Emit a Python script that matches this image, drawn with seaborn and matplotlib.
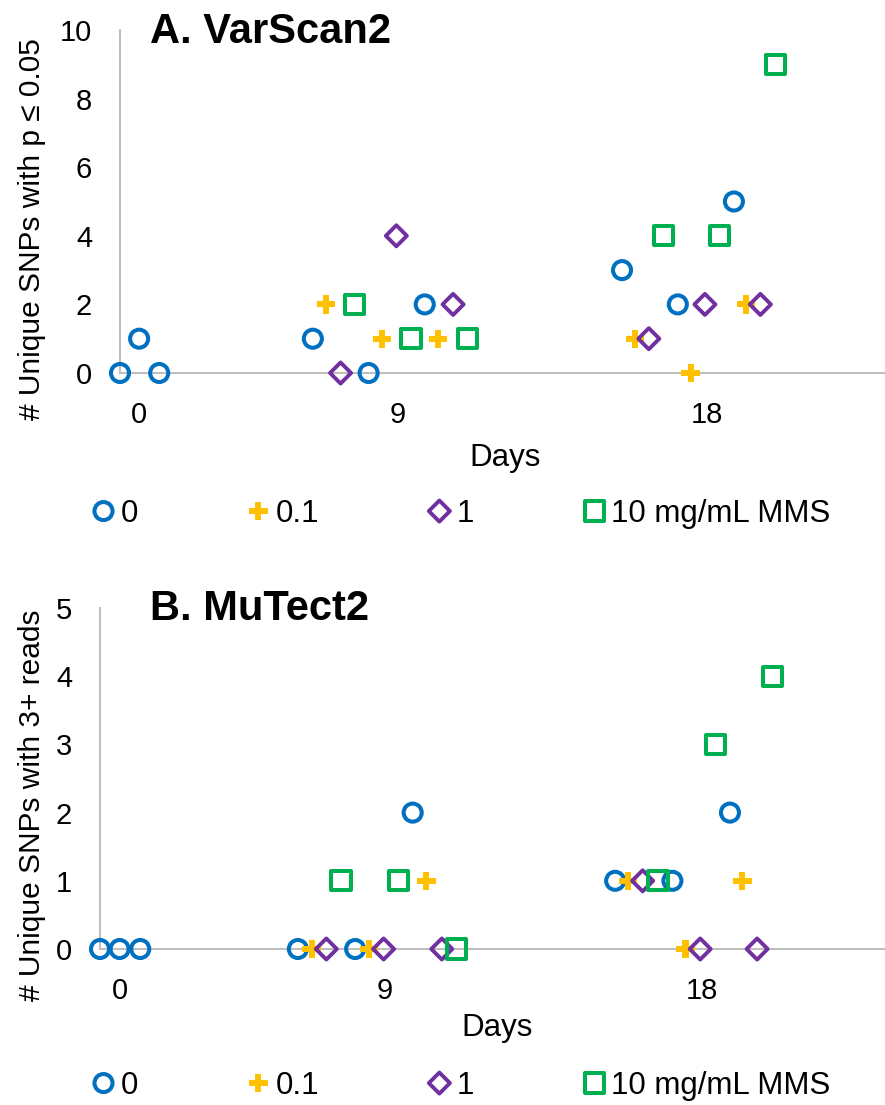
import matplotlib
matplotlib.use('Agg')
import matplotlib.pyplot as plt
import seaborn as sns

# x positions in days (replicates spread around each time point)
x_ctrl = [0, 0.6, 1.23, 6.05, 7.8, 9.56, 15.75, 17.5, 19.26]
x_low = [6.47, 8.22, 9.98, 16.15, 17.9, 19.64]
x_mid = [6.92, 8.67, 10.45, 16.59, 18.35, 20.09]
x_high = [7.37, 9.13, 10.9, 17.06, 18.81, 20.57]

# A. VarScan2 - unique SNPs with p <= 0.05
varscan_ctrl = [0, 1, 0, 1, 0, 2, 3, 2, 5]
varscan_low = [2, 1, 1, 1, 0, 2]
varscan_mid = [0, 4, 2, 1, 2, 2]
varscan_high = [2, 1, 1, 4, 4, 9]

# B. MuTect2 - unique SNPs with 3+ reads
mutect_ctrl = [0, 0, 0, 0, 0, 2, 1, 1, 2]
mutect_low = [0, 0, 1, 1, 0, 1]
mutect_mid = [0, 0, 0, 1, 0, 0]
mutect_high = [1, 1, 0, 1, 3, 4]

dose_labels = ['0', '0.1', '1', '10 mg/mL MMS']
day_labels = ['0', '9', '18']
day_tick_pos = [0.6, 8.7, 18.4]

sns.set_style('white')
plt.rcParams['font.family'] = ['Liberation Sans', 'DejaVu Sans']
plt.rcParams['text.color'] = 'black'
plt.rcParams['xtick.color'] = 'black'
plt.rcParams['ytick.color'] = 'black'

# marker styles for each dose (Excel-like colours)
styles = [
    dict(marker='o', s=169, color='#0070C0', facecolor='none', edgecolor='#0070C0', linewidth=2.9),
    dict(marker='P', s=175, color='#FFC000', edgecolor='none', linewidth=0),
    dict(marker='D', s=115, color='#7030A0', facecolor='none', edgecolor='#7030A0', linewidth=2.8),
    dict(marker='s', s=190, color='#00B050', facecolor='none', edgecolor='#00B050', linewidth=2.9),
]

W, H = 885, 1105
fig = plt.figure(figsize=(W / 100, H / 100), dpi=100)
ax_a = fig.add_axes([120 / W, 1 - 373 / H, 765 / W, 343 / H])
ax_b = fig.add_axes([100 / W, 1 - 949 / H, 785 / W, 341 / H])


def draw_panel(ax, series, ymax, title, ylabel, title_xy, ylabel_xy, days_xy, legend_y):
    xs = [x_ctrl, x_low, x_mid, x_high]
    for x, y, lab, st in zip(xs, series, dose_labels, styles):
        sns.scatterplot(x=x, y=y, ax=ax, label=lab, legend=False, clip_on=False, zorder=3, **st)
    ax.set_xlim(0, 24)
    ax.set_ylim(0, ymax)
    ax.set_xticks(day_tick_pos)
    ax.set_xticklabels(day_labels)
    ax.set_yticks(range(0, ymax + 1, 2 if ymax > 5 else 1))
    ax.tick_params(axis='both', length=0, labelsize=21)
    ax.tick_params(axis='x', pad=20)
    ax.tick_params(axis='y', pad=20)
    for side in ['top', 'right']:
        ax.spines[side].set_visible(False)
    for side in ['left', 'bottom']:
        ax.spines[side].set_color('#BFBFBF')
        ax.spines[side].set_linewidth(1.5)
    ax.set_xlabel('')
    ax.set_ylabel('')

    fig.text(title_xy[0] / W, 1 - title_xy[1] / H, title, ha='left', va='baseline',
             fontsize=30, fontweight='bold')
    fig.text(ylabel_xy[0] / W, 1 - ylabel_xy[1] / H, ylabel, rotation=90,
             ha='center', va='center', fontsize=21.5)
    fig.text(days_xy[0] / W, 1 - days_xy[1] / H, 'Days', ha='center', va='center', fontsize=22.5)

    handles, labels = ax.get_legend_handles_labels()
    fig.legend(handles, labels, loc='center left', bbox_to_anchor=(91 / W, 1 - legend_y / H),
               ncol=4, frameon=False, fontsize=22.5, handlelength=0.8, handletextpad=0.15,
               columnspacing=3.45, borderpad=0, borderaxespad=0, scatterpoints=1,
               scatteryoffsets=[0.5])


draw_panel(ax_a, [varscan_ctrl, varscan_low, varscan_mid, varscan_high], 10,
           'A. VarScan2', '# Unique SNPs with p \u2264 0.05',
           (150, 43), (32, 229), (505, 458), 514)
draw_panel(ax_b, [mutect_ctrl, mutect_low, mutect_mid, mutect_high], 5,
           'B. MuTect2', '# Unique SNPs with 3+ reads',
           (150, 620), (32, 805), (497, 1028), 1086)

fig.savefig('out.png', dpi=100)
